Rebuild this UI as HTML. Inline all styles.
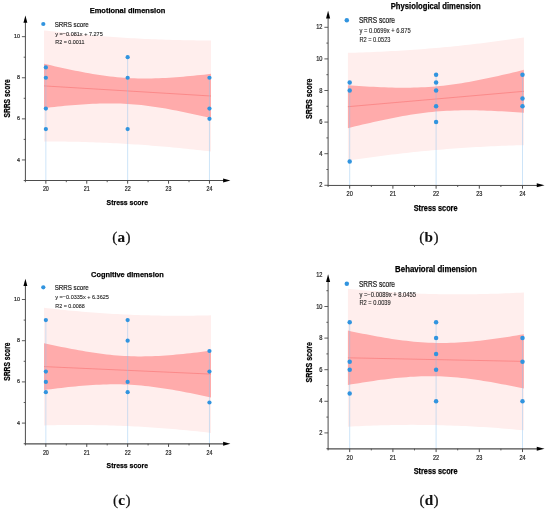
<!DOCTYPE html>
<html lang="en"><head><meta charset="utf-8"><title>SRRS score vs Stress score</title>
<style>html,body{margin:0;padding:0;background:#fff;}body{width:550px;height:513px;overflow:hidden;}svg{display:block;filter:blur(0.4px);font-family:'Liberation Sans', Arial, sans-serif;}</style>
</head><body>
<svg width="550" height="513" viewBox="0 0 550 513">
<rect x="0" y="0" width="550" height="513" fill="#fff"/>
<g>
<polygon points="44.00,30.40 47.48,30.81 50.96,31.21 54.44,31.61 57.92,31.99 61.40,32.37 64.88,32.74 68.35,33.10 71.83,33.46 75.31,33.80 78.79,34.14 82.27,34.47 85.75,34.79 89.23,35.10 92.71,35.40 96.19,35.70 99.67,35.98 103.15,36.26 106.62,36.53 110.10,36.79 113.58,37.04 117.06,37.28 120.54,37.51 124.02,37.74 127.50,37.95 130.98,38.16 134.46,38.35 137.94,38.54 141.42,38.72 144.90,38.89 148.38,39.05 151.85,39.21 155.33,39.35 158.81,39.49 162.29,39.61 165.77,39.73 169.25,39.84 172.73,39.94 176.21,40.03 179.69,40.12 183.17,40.19 186.65,40.26 190.12,40.32 193.60,40.37 197.08,40.41 200.56,40.44 204.04,40.47 207.52,40.49 211.00,40.50 211.00,151.50 207.52,151.09 204.04,150.69 200.56,150.29 197.08,149.91 193.60,149.53 190.12,149.16 186.65,148.80 183.17,148.44 179.69,148.10 176.21,147.76 172.73,147.43 169.25,147.11 165.77,146.80 162.29,146.50 158.81,146.20 155.33,145.92 151.85,145.64 148.38,145.37 144.90,145.11 141.42,144.86 137.94,144.62 134.46,144.39 130.98,144.16 127.50,143.95 124.02,143.74 120.54,143.55 117.06,143.36 113.58,143.18 110.10,143.01 106.62,142.85 103.15,142.69 99.67,142.55 96.19,142.41 92.71,142.29 89.23,142.17 85.75,142.06 82.27,141.96 78.79,141.87 75.31,141.78 71.83,141.71 68.35,141.64 64.88,141.58 61.40,141.53 57.92,141.49 54.44,141.46 50.96,141.43 47.48,141.41 44.00,141.40" fill="#ffeeed"/>
<polygon points="44.00,63.75 47.48,64.56 50.96,65.37 54.44,66.16 57.92,66.94 61.40,67.71 64.88,68.47 68.35,69.21 71.83,69.94 75.31,70.65 78.79,71.34 82.27,72.01 85.75,72.66 89.23,73.29 92.71,73.89 96.19,74.46 99.67,75.00 103.15,75.51 106.62,75.98 110.10,76.42 113.58,76.82 117.06,77.18 120.54,77.49 124.02,77.77 127.50,78.00 130.98,78.19 134.46,78.33 137.94,78.44 141.42,78.50 144.90,78.52 148.38,78.51 151.85,78.45 155.33,78.37 158.81,78.25 162.29,78.10 165.77,77.92 169.25,77.71 172.73,77.49 176.21,77.23 179.69,76.96 183.17,76.68 186.65,76.37 190.12,76.05 193.60,75.71 197.08,75.36 200.56,75.00 204.04,74.63 207.52,74.24 211.00,73.85 211.00,118.15 207.52,117.34 204.04,116.53 200.56,115.74 197.08,114.96 193.60,114.19 190.12,113.43 186.65,112.69 183.17,111.96 179.69,111.25 176.21,110.56 172.73,109.89 169.25,109.24 165.77,108.61 162.29,108.01 158.81,107.44 155.33,106.90 151.85,106.39 148.38,105.92 144.90,105.48 141.42,105.08 137.94,104.72 134.46,104.41 130.98,104.13 127.50,103.90 124.02,103.71 120.54,103.57 117.06,103.46 113.58,103.40 110.10,103.38 106.62,103.39 103.15,103.45 99.67,103.53 96.19,103.65 92.71,103.80 89.23,103.98 85.75,104.19 82.27,104.41 78.79,104.67 75.31,104.94 71.83,105.22 68.35,105.53 64.88,105.85 61.40,106.19 57.92,106.54 54.44,106.90 50.96,107.27 47.48,107.66 44.00,108.05" fill="#ffabab"/>
<line x1="44.00" y1="85.90" x2="211.00" y2="96.00" stroke="#fb8686" stroke-width="0.9"/>
<line x1="45.85" y1="67.47" x2="45.85" y2="180.50" stroke="#8cc0f0" stroke-opacity="0.55" stroke-width="0.8"/>
<line x1="127.65" y1="57.20" x2="127.65" y2="180.50" stroke="#8cc0f0" stroke-opacity="0.55" stroke-width="0.8"/>
<line x1="209.45" y1="77.75" x2="209.45" y2="180.50" stroke="#8cc0f0" stroke-opacity="0.55" stroke-width="0.8"/>
<circle cx="45.85" cy="67.47" r="2.12" fill="#3194df"/>
<circle cx="45.85" cy="77.75" r="2.12" fill="#3194df"/>
<circle cx="45.85" cy="108.58" r="2.12" fill="#3194df"/>
<circle cx="45.85" cy="129.12" r="2.12" fill="#3194df"/>
<circle cx="127.65" cy="57.20" r="2.12" fill="#3194df"/>
<circle cx="127.65" cy="77.75" r="2.12" fill="#3194df"/>
<circle cx="127.65" cy="129.12" r="2.12" fill="#3194df"/>
<circle cx="209.45" cy="77.75" r="2.12" fill="#3194df"/>
<circle cx="209.45" cy="108.58" r="2.12" fill="#3194df"/>
<circle cx="209.45" cy="118.85" r="2.12" fill="#3194df"/>
<line x1="25.40" y1="181.00" x2="25.40" y2="20.40" stroke="#4c4c4c" stroke-width="1"/>
<line x1="24.90" y1="180.50" x2="225.40" y2="180.50" stroke="#4c4c4c" stroke-width="1.00"/>
<polygon points="25.40,15.40 23.45,22.70 27.35,22.70" fill="#000"/>
<polygon points="230.40,180.50 223.10,178.55 223.10,182.45" fill="#000"/>
<line x1="21.90" y1="159.95" x2="25.40" y2="159.95" stroke="#4c4c4c" stroke-width="0.9"/>
<text x="20.10" y="161.50" text-anchor="end" font-size="6.00" fill="#222" stroke="#222" stroke-width="0.2" textLength="3.0" lengthAdjust="spacingAndGlyphs">4</text>
<line x1="21.90" y1="118.85" x2="25.40" y2="118.85" stroke="#4c4c4c" stroke-width="0.9"/>
<text x="20.10" y="120.40" text-anchor="end" font-size="6.00" fill="#222" stroke="#222" stroke-width="0.2" textLength="3.0" lengthAdjust="spacingAndGlyphs">6</text>
<line x1="21.90" y1="77.75" x2="25.40" y2="77.75" stroke="#4c4c4c" stroke-width="0.9"/>
<text x="20.10" y="79.30" text-anchor="end" font-size="6.00" fill="#222" stroke="#222" stroke-width="0.2" textLength="3.0" lengthAdjust="spacingAndGlyphs">8</text>
<line x1="21.90" y1="36.65" x2="25.40" y2="36.65" stroke="#4c4c4c" stroke-width="0.9"/>
<text x="20.10" y="38.20" text-anchor="end" font-size="6.00" fill="#222" stroke="#222" stroke-width="0.2" textLength="6.0" lengthAdjust="spacingAndGlyphs">10</text>
<line x1="23.70" y1="180.50" x2="25.40" y2="180.50" stroke="#4c4c4c" stroke-width="0.9"/>
<line x1="23.70" y1="139.40" x2="25.40" y2="139.40" stroke="#4c4c4c" stroke-width="0.9"/>
<line x1="23.70" y1="98.30" x2="25.40" y2="98.30" stroke="#4c4c4c" stroke-width="0.9"/>
<line x1="23.70" y1="57.20" x2="25.40" y2="57.20" stroke="#4c4c4c" stroke-width="0.9"/>
<line x1="45.85" y1="180.50" x2="45.85" y2="183.70" stroke="#4c4c4c" stroke-width="1"/>
<text x="45.85" y="191.35" text-anchor="middle" font-size="7.00" fill="#222" stroke="#222" stroke-width="0.2" textLength="5.9" lengthAdjust="spacingAndGlyphs">20</text>
<line x1="86.75" y1="180.50" x2="86.75" y2="183.70" stroke="#4c4c4c" stroke-width="1"/>
<text x="86.75" y="191.35" text-anchor="middle" font-size="7.00" fill="#222" stroke="#222" stroke-width="0.2" textLength="5.9" lengthAdjust="spacingAndGlyphs">21</text>
<line x1="127.65" y1="180.50" x2="127.65" y2="183.70" stroke="#4c4c4c" stroke-width="1"/>
<text x="127.65" y="191.35" text-anchor="middle" font-size="7.00" fill="#222" stroke="#222" stroke-width="0.2" textLength="5.9" lengthAdjust="spacingAndGlyphs">22</text>
<line x1="168.55" y1="180.50" x2="168.55" y2="183.70" stroke="#4c4c4c" stroke-width="1"/>
<text x="168.55" y="191.35" text-anchor="middle" font-size="7.00" fill="#222" stroke="#222" stroke-width="0.2" textLength="5.9" lengthAdjust="spacingAndGlyphs">23</text>
<line x1="209.45" y1="180.50" x2="209.45" y2="183.70" stroke="#4c4c4c" stroke-width="1"/>
<text x="209.45" y="191.35" text-anchor="middle" font-size="7.00" fill="#222" stroke="#222" stroke-width="0.2" textLength="5.9" lengthAdjust="spacingAndGlyphs">24</text>
<line x1="25.40" y1="180.50" x2="25.40" y2="182.20" stroke="#4c4c4c" stroke-width="0.9"/>
<line x1="66.30" y1="180.50" x2="66.30" y2="182.20" stroke="#4c4c4c" stroke-width="0.9"/>
<line x1="107.20" y1="180.50" x2="107.20" y2="182.20" stroke="#4c4c4c" stroke-width="0.9"/>
<line x1="148.10" y1="180.50" x2="148.10" y2="182.20" stroke="#4c4c4c" stroke-width="0.9"/>
<line x1="189.00" y1="180.50" x2="189.00" y2="182.20" stroke="#4c4c4c" stroke-width="0.9"/>
<text x="127.50" y="13.20" text-anchor="middle" font-size="8.10" font-weight="bold" fill="#000" stroke="#000" stroke-width="0.25" textLength="75.6" lengthAdjust="spacingAndGlyphs">Emotional dimension</text>
<text x="127.30" y="204.60" text-anchor="middle" font-size="7.90" font-weight="bold" fill="#000" stroke="#000" stroke-width="0.25" textLength="41.4" lengthAdjust="spacingAndGlyphs">Stress score</text>
<text transform="translate(9.90 98.40) rotate(-90)" text-anchor="middle" font-size="8.20" font-weight="bold" fill="#000" stroke="#000" stroke-width="0.25" textLength="38.2" lengthAdjust="spacingAndGlyphs">SRRS score</text>
<circle cx="43.30" cy="24.00" r="2.12" fill="#3194df"/>
<text x="54.70" y="26.80" font-size="7.90" fill="#1c1c1c" stroke="#1c1c1c" stroke-width="0.22" textLength="34.0" lengthAdjust="spacingAndGlyphs">SRRS score</text>
<text x="55.30" y="35.90" font-size="6.20" fill="#222" stroke="#222" stroke-width="0.1" textLength="47.4" lengthAdjust="spacingAndGlyphs">y =−0.081x + 7.275</text>
<text x="55.30" y="44.20" font-size="6.20" fill="#222" stroke="#222" stroke-width="0.1" textLength="29.1" lengthAdjust="spacingAndGlyphs">R2 = 0.0011</text>
<text x="121.60" y="242.30" text-anchor="middle" font-family='"Liberation Serif", "Times New Roman", serif' font-size="15.2" letter-spacing="0.35" fill="#111" stroke="#111" stroke-width="0.2" stroke-linejoin="round">(<tspan font-weight="bold" stroke-width="0.12">a</tspan>)</text>
</g>
<g>
<polygon points="347.90,52.83 351.57,52.73 355.23,52.63 358.90,52.52 362.57,52.40 366.23,52.28 369.90,52.14 373.57,51.99 377.23,51.84 380.90,51.67 384.57,51.50 388.23,51.31 391.90,51.12 395.57,50.91 399.23,50.70 402.90,50.47 406.57,50.24 410.23,50.00 413.90,49.74 417.57,49.48 421.23,49.20 424.90,48.92 428.57,48.62 432.23,48.32 435.90,48.00 439.57,47.67 443.23,47.34 446.90,46.99 450.57,46.63 454.23,46.27 457.90,45.89 461.57,45.50 465.23,45.11 468.90,44.70 472.57,44.28 476.23,43.85 479.90,43.42 483.57,42.97 487.23,42.51 490.90,42.05 494.57,41.57 498.23,41.08 501.90,40.59 505.57,40.09 509.23,39.57 512.90,39.05 516.57,38.52 520.23,37.98 523.90,37.43 523.90,145.17 520.23,145.27 516.57,145.37 512.90,145.48 509.23,145.60 505.57,145.72 501.90,145.86 498.23,146.01 494.57,146.16 490.90,146.33 487.23,146.50 483.57,146.69 479.90,146.88 476.23,147.09 472.57,147.30 468.90,147.53 465.23,147.76 461.57,148.00 457.90,148.26 454.23,148.52 450.57,148.80 446.90,149.08 443.23,149.38 439.57,149.68 435.90,150.00 432.23,150.33 428.57,150.66 424.90,151.01 421.23,151.37 417.57,151.73 413.90,152.11 410.23,152.50 406.57,152.89 402.90,153.30 399.23,153.72 395.57,154.15 391.90,154.58 388.23,155.03 384.57,155.49 380.90,155.95 377.23,156.43 373.57,156.92 369.90,157.41 366.23,157.91 362.57,158.43 358.90,158.95 355.23,159.48 351.57,160.02 347.90,160.57" fill="#ffeeed"/>
<polygon points="347.90,85.25 351.57,85.51 355.23,85.76 358.90,86.00 362.57,86.23 366.23,86.45 369.90,86.66 373.57,86.85 377.23,87.03 380.90,87.19 384.57,87.33 388.23,87.45 391.90,87.55 395.57,87.63 399.23,87.68 402.90,87.71 406.57,87.70 410.23,87.67 413.90,87.60 417.57,87.50 421.23,87.36 424.90,87.18 428.57,86.96 432.23,86.70 435.90,86.40 439.57,86.06 443.23,85.68 446.90,85.25 450.57,84.79 454.23,84.29 457.90,83.75 461.57,83.17 465.23,82.57 468.90,81.93 472.57,81.26 476.23,80.57 479.90,79.85 483.57,79.11 487.23,78.34 490.90,77.56 494.57,76.76 498.23,75.94 501.90,75.11 505.57,74.26 509.23,73.40 512.90,72.53 516.57,71.64 520.23,70.75 523.90,69.85 523.90,112.75 520.23,112.49 516.57,112.24 512.90,112.00 509.23,111.77 505.57,111.55 501.90,111.34 498.23,111.15 494.57,110.97 490.90,110.81 487.23,110.67 483.57,110.55 479.90,110.45 476.23,110.37 472.57,110.32 468.90,110.29 465.23,110.30 461.57,110.33 457.90,110.40 454.23,110.50 450.57,110.64 446.90,110.82 443.23,111.04 439.57,111.30 435.90,111.60 432.23,111.94 428.57,112.32 424.90,112.75 421.23,113.21 417.57,113.71 413.90,114.25 410.23,114.83 406.57,115.43 402.90,116.07 399.23,116.74 395.57,117.43 391.90,118.15 388.23,118.89 384.57,119.66 380.90,120.44 377.23,121.24 373.57,122.06 369.90,122.89 366.23,123.74 362.57,124.60 358.90,125.47 355.23,126.36 351.57,127.25 347.90,128.15" fill="#ffabab"/>
<line x1="347.90" y1="106.70" x2="523.90" y2="91.30" stroke="#fb8686" stroke-width="0.9"/>
<line x1="349.70" y1="82.60" x2="349.70" y2="185.30" stroke="#8cc0f0" stroke-opacity="0.55" stroke-width="0.8"/>
<line x1="436.10" y1="74.70" x2="436.10" y2="185.30" stroke="#8cc0f0" stroke-opacity="0.55" stroke-width="0.8"/>
<line x1="522.50" y1="74.70" x2="522.50" y2="185.30" stroke="#8cc0f0" stroke-opacity="0.55" stroke-width="0.8"/>
<circle cx="349.70" cy="82.60" r="2.24" fill="#3194df"/>
<circle cx="349.70" cy="90.50" r="2.24" fill="#3194df"/>
<circle cx="349.70" cy="161.60" r="2.24" fill="#3194df"/>
<circle cx="436.10" cy="74.70" r="2.24" fill="#3194df"/>
<circle cx="436.10" cy="82.60" r="2.24" fill="#3194df"/>
<circle cx="436.10" cy="90.50" r="2.24" fill="#3194df"/>
<circle cx="436.10" cy="106.30" r="2.24" fill="#3194df"/>
<circle cx="436.10" cy="122.10" r="2.24" fill="#3194df"/>
<circle cx="522.50" cy="74.70" r="2.24" fill="#3194df"/>
<circle cx="522.50" cy="98.40" r="2.24" fill="#3194df"/>
<circle cx="522.50" cy="106.30" r="2.24" fill="#3194df"/>
<line x1="328.10" y1="185.80" x2="328.10" y2="15.80" stroke="#4c4c4c" stroke-width="1"/>
<line x1="327.60" y1="185.45" x2="539.50" y2="185.45" stroke="#4c4c4c" stroke-width="1.00"/>
<polygon points="328.10,10.80 326.04,18.52 330.16,18.52" fill="#000"/>
<polygon points="544.50,185.30 536.78,183.24 536.78,187.36" fill="#000"/>
<line x1="324.40" y1="185.30" x2="328.10" y2="185.30" stroke="#4c4c4c" stroke-width="0.9"/>
<text x="322.49" y="187.30" text-anchor="end" font-size="6.35" fill="#222" stroke="#222" stroke-width="0.2" textLength="3.2" lengthAdjust="spacingAndGlyphs">2</text>
<line x1="324.40" y1="153.70" x2="328.10" y2="153.70" stroke="#4c4c4c" stroke-width="0.9"/>
<text x="322.49" y="155.70" text-anchor="end" font-size="6.35" fill="#222" stroke="#222" stroke-width="0.2" textLength="3.2" lengthAdjust="spacingAndGlyphs">4</text>
<line x1="324.40" y1="122.10" x2="328.10" y2="122.10" stroke="#4c4c4c" stroke-width="0.9"/>
<text x="322.49" y="124.10" text-anchor="end" font-size="6.35" fill="#222" stroke="#222" stroke-width="0.2" textLength="3.2" lengthAdjust="spacingAndGlyphs">6</text>
<line x1="324.40" y1="90.50" x2="328.10" y2="90.50" stroke="#4c4c4c" stroke-width="0.9"/>
<text x="322.49" y="92.50" text-anchor="end" font-size="6.35" fill="#222" stroke="#222" stroke-width="0.2" textLength="3.2" lengthAdjust="spacingAndGlyphs">8</text>
<line x1="324.40" y1="58.90" x2="328.10" y2="58.90" stroke="#4c4c4c" stroke-width="0.9"/>
<text x="322.49" y="60.90" text-anchor="end" font-size="6.35" fill="#222" stroke="#222" stroke-width="0.2" textLength="6.3" lengthAdjust="spacingAndGlyphs">10</text>
<line x1="324.40" y1="27.30" x2="328.10" y2="27.30" stroke="#4c4c4c" stroke-width="0.9"/>
<text x="322.49" y="29.30" text-anchor="end" font-size="6.35" fill="#222" stroke="#222" stroke-width="0.2" textLength="6.3" lengthAdjust="spacingAndGlyphs">12</text>
<line x1="326.40" y1="169.50" x2="328.10" y2="169.50" stroke="#4c4c4c" stroke-width="0.9"/>
<line x1="326.40" y1="137.90" x2="328.10" y2="137.90" stroke="#4c4c4c" stroke-width="0.9"/>
<line x1="326.40" y1="106.30" x2="328.10" y2="106.30" stroke="#4c4c4c" stroke-width="0.9"/>
<line x1="326.40" y1="74.70" x2="328.10" y2="74.70" stroke="#4c4c4c" stroke-width="0.9"/>
<line x1="326.40" y1="43.10" x2="328.10" y2="43.10" stroke="#4c4c4c" stroke-width="0.9"/>
<line x1="349.70" y1="185.30" x2="349.70" y2="188.69" stroke="#4c4c4c" stroke-width="1"/>
<text x="349.70" y="196.15" text-anchor="middle" font-size="7.41" fill="#222" stroke="#222" stroke-width="0.2" textLength="6.2" lengthAdjust="spacingAndGlyphs">20</text>
<line x1="392.90" y1="185.30" x2="392.90" y2="188.69" stroke="#4c4c4c" stroke-width="1"/>
<text x="392.90" y="196.15" text-anchor="middle" font-size="7.41" fill="#222" stroke="#222" stroke-width="0.2" textLength="6.2" lengthAdjust="spacingAndGlyphs">21</text>
<line x1="436.10" y1="185.30" x2="436.10" y2="188.69" stroke="#4c4c4c" stroke-width="1"/>
<text x="436.10" y="196.15" text-anchor="middle" font-size="7.41" fill="#222" stroke="#222" stroke-width="0.2" textLength="6.2" lengthAdjust="spacingAndGlyphs">22</text>
<line x1="479.30" y1="185.30" x2="479.30" y2="188.69" stroke="#4c4c4c" stroke-width="1"/>
<text x="479.30" y="196.15" text-anchor="middle" font-size="7.41" fill="#222" stroke="#222" stroke-width="0.2" textLength="6.2" lengthAdjust="spacingAndGlyphs">23</text>
<line x1="522.50" y1="185.30" x2="522.50" y2="188.69" stroke="#4c4c4c" stroke-width="1"/>
<text x="522.50" y="196.15" text-anchor="middle" font-size="7.41" fill="#222" stroke="#222" stroke-width="0.2" textLength="6.2" lengthAdjust="spacingAndGlyphs">24</text>
<line x1="328.10" y1="185.30" x2="328.10" y2="187.00" stroke="#4c4c4c" stroke-width="0.9"/>
<line x1="371.30" y1="185.30" x2="371.30" y2="187.00" stroke="#4c4c4c" stroke-width="0.9"/>
<line x1="414.50" y1="185.30" x2="414.50" y2="187.00" stroke="#4c4c4c" stroke-width="0.9"/>
<line x1="457.70" y1="185.30" x2="457.70" y2="187.00" stroke="#4c4c4c" stroke-width="0.9"/>
<line x1="500.90" y1="185.30" x2="500.90" y2="187.00" stroke="#4c4c4c" stroke-width="0.9"/>
<text x="435.70" y="8.80" text-anchor="middle" font-size="8.57" font-weight="bold" fill="#000" stroke="#000" stroke-width="0.25" textLength="89.9" lengthAdjust="spacingAndGlyphs">Physiological dimension</text>
<text x="435.60" y="210.70" text-anchor="middle" font-size="8.36" font-weight="bold" fill="#000" stroke="#000" stroke-width="0.25" textLength="43.8" lengthAdjust="spacingAndGlyphs">Stress score</text>
<text transform="translate(311.60 98.70) rotate(-90)" text-anchor="middle" font-size="8.68" font-weight="bold" fill="#000" stroke="#000" stroke-width="0.25" textLength="40.4" lengthAdjust="spacingAndGlyphs">SRRS score</text>
<circle cx="346.80" cy="20.20" r="2.24" fill="#3194df"/>
<text x="359.00" y="23.10" font-size="8.36" fill="#1c1c1c" stroke="#1c1c1c" stroke-width="0.22" textLength="36.0" lengthAdjust="spacingAndGlyphs">SRRS score</text>
<text x="359.40" y="32.60" font-size="6.38" fill="#222" stroke="#222" stroke-width="0.1" textLength="51.4" lengthAdjust="spacingAndGlyphs">y = 0.0699x + 6.875</text>
<text x="359.40" y="42.00" font-size="6.38" fill="#222" stroke="#222" stroke-width="0.1" textLength="31.1" lengthAdjust="spacingAndGlyphs">R2 = 0.0523</text>
<text x="429.00" y="242.30" text-anchor="middle" font-family='"Liberation Serif", "Times New Roman", serif' font-size="15.2" letter-spacing="0.35" fill="#111" stroke="#111" stroke-width="0.2" stroke-linejoin="round">(<tspan font-weight="bold" stroke-width="0.12">b</tspan>)</text>
</g>
<g>
<polygon points="44.00,307.82 47.48,308.22 50.96,308.61 54.44,308.99 57.92,309.36 61.40,309.71 64.88,310.06 68.35,310.40 71.83,310.73 75.31,311.05 78.79,311.36 82.27,311.66 85.75,311.95 89.23,312.23 92.71,312.50 96.19,312.76 99.67,313.01 103.15,313.24 106.62,313.47 110.10,313.68 113.58,313.89 117.06,314.08 120.54,314.27 124.02,314.44 127.50,314.60 130.98,314.75 134.46,314.89 137.94,315.02 141.42,315.14 144.90,315.25 148.38,315.34 151.85,315.43 155.33,315.51 158.81,315.57 162.29,315.63 165.77,315.67 169.25,315.70 172.73,315.73 176.21,315.74 179.69,315.74 183.17,315.73 186.65,315.72 190.12,315.69 193.60,315.65 197.08,315.61 200.56,315.55 204.04,315.48 207.52,315.41 211.00,315.32 211.00,432.88 207.52,432.48 204.04,432.09 200.56,431.71 197.08,431.34 193.60,430.99 190.12,430.64 186.65,430.30 183.17,429.97 179.69,429.65 176.21,429.34 172.73,429.04 169.25,428.75 165.77,428.47 162.29,428.20 158.81,427.94 155.33,427.69 151.85,427.46 148.38,427.23 144.90,427.02 141.42,426.81 137.94,426.62 134.46,426.43 130.98,426.26 127.50,426.10 124.02,425.95 120.54,425.81 117.06,425.68 113.58,425.56 110.10,425.45 106.62,425.36 103.15,425.27 99.67,425.19 96.19,425.13 92.71,425.07 89.23,425.03 85.75,425.00 82.27,424.97 78.79,424.96 75.31,424.96 71.83,424.97 68.35,424.98 64.88,425.01 61.40,425.05 57.92,425.09 54.44,425.15 50.96,425.22 47.48,425.29 44.00,425.38" fill="#ffeeed"/>
<polygon points="44.00,343.15 47.48,343.92 50.96,344.68 54.44,345.42 57.92,346.16 61.40,346.88 64.88,347.58 68.35,348.28 71.83,348.95 75.31,349.61 78.79,350.24 82.27,350.86 85.75,351.45 89.23,352.02 92.71,352.56 96.19,353.07 99.67,353.56 103.15,354.01 106.62,354.42 110.10,354.80 113.58,355.14 117.06,355.44 120.54,355.70 124.02,355.92 127.50,356.10 130.98,356.24 134.46,356.33 137.94,356.38 141.42,356.39 144.90,356.36 148.38,356.30 151.85,356.19 155.33,356.06 158.81,355.89 162.29,355.69 165.77,355.46 169.25,355.20 172.73,354.92 176.21,354.62 179.69,354.29 183.17,353.95 186.65,353.59 190.12,353.21 193.60,352.81 197.08,352.41 200.56,351.98 204.04,351.55 207.52,351.11 211.00,350.65 211.00,397.55 207.52,396.78 204.04,396.02 200.56,395.28 197.08,394.54 193.60,393.82 190.12,393.12 186.65,392.42 183.17,391.75 179.69,391.09 176.21,390.46 172.73,389.84 169.25,389.25 165.77,388.68 162.29,388.14 158.81,387.63 155.33,387.14 151.85,386.69 148.38,386.28 144.90,385.90 141.42,385.56 137.94,385.26 134.46,385.00 130.98,384.78 127.50,384.60 124.02,384.46 120.54,384.37 117.06,384.32 113.58,384.31 110.10,384.34 106.62,384.40 103.15,384.51 99.67,384.64 96.19,384.81 92.71,385.01 89.23,385.24 85.75,385.50 82.27,385.78 78.79,386.08 75.31,386.41 71.83,386.75 68.35,387.11 64.88,387.49 61.40,387.89 57.92,388.29 54.44,388.72 50.96,389.15 47.48,389.59 44.00,390.05" fill="#ffabab"/>
<line x1="44.00" y1="366.60" x2="211.00" y2="374.10" stroke="#fb8686" stroke-width="0.9"/>
<line x1="45.85" y1="320.10" x2="45.85" y2="443.70" stroke="#8cc0f0" stroke-opacity="0.55" stroke-width="0.8"/>
<line x1="127.65" y1="320.10" x2="127.65" y2="443.70" stroke="#8cc0f0" stroke-opacity="0.55" stroke-width="0.8"/>
<line x1="209.45" y1="351.00" x2="209.45" y2="443.70" stroke="#8cc0f0" stroke-opacity="0.55" stroke-width="0.8"/>
<circle cx="45.85" cy="320.10" r="2.12" fill="#3194df"/>
<circle cx="45.85" cy="371.60" r="2.12" fill="#3194df"/>
<circle cx="45.85" cy="381.90" r="2.12" fill="#3194df"/>
<circle cx="45.85" cy="392.20" r="2.12" fill="#3194df"/>
<circle cx="127.65" cy="320.10" r="2.12" fill="#3194df"/>
<circle cx="127.65" cy="340.70" r="2.12" fill="#3194df"/>
<circle cx="127.65" cy="381.90" r="2.12" fill="#3194df"/>
<circle cx="127.65" cy="392.20" r="2.12" fill="#3194df"/>
<circle cx="209.45" cy="351.00" r="2.12" fill="#3194df"/>
<circle cx="209.45" cy="371.60" r="2.12" fill="#3194df"/>
<circle cx="209.45" cy="402.50" r="2.12" fill="#3194df"/>
<line x1="25.40" y1="444.20" x2="25.40" y2="283.80" stroke="#4c4c4c" stroke-width="1"/>
<line x1="24.90" y1="443.90" x2="225.40" y2="443.90" stroke="#4c4c4c" stroke-width="1.30"/>
<polygon points="25.40,278.80 23.45,286.10 27.35,286.10" fill="#000"/>
<polygon points="230.40,443.70 223.10,441.75 223.10,445.65" fill="#000"/>
<line x1="21.90" y1="423.10" x2="25.40" y2="423.10" stroke="#4c4c4c" stroke-width="0.9"/>
<text x="20.10" y="424.65" text-anchor="end" font-size="6.00" fill="#222" stroke="#222" stroke-width="0.2" textLength="3.0" lengthAdjust="spacingAndGlyphs">4</text>
<line x1="21.90" y1="381.90" x2="25.40" y2="381.90" stroke="#4c4c4c" stroke-width="0.9"/>
<text x="20.10" y="383.45" text-anchor="end" font-size="6.00" fill="#222" stroke="#222" stroke-width="0.2" textLength="3.0" lengthAdjust="spacingAndGlyphs">6</text>
<line x1="21.90" y1="340.70" x2="25.40" y2="340.70" stroke="#4c4c4c" stroke-width="0.9"/>
<text x="20.10" y="342.25" text-anchor="end" font-size="6.00" fill="#222" stroke="#222" stroke-width="0.2" textLength="3.0" lengthAdjust="spacingAndGlyphs">8</text>
<line x1="21.90" y1="299.50" x2="25.40" y2="299.50" stroke="#4c4c4c" stroke-width="0.9"/>
<text x="20.10" y="301.05" text-anchor="end" font-size="6.00" fill="#222" stroke="#222" stroke-width="0.2" textLength="6.0" lengthAdjust="spacingAndGlyphs">10</text>
<line x1="23.70" y1="443.70" x2="25.40" y2="443.70" stroke="#4c4c4c" stroke-width="0.9"/>
<line x1="23.70" y1="402.50" x2="25.40" y2="402.50" stroke="#4c4c4c" stroke-width="0.9"/>
<line x1="23.70" y1="361.30" x2="25.40" y2="361.30" stroke="#4c4c4c" stroke-width="0.9"/>
<line x1="23.70" y1="320.10" x2="25.40" y2="320.10" stroke="#4c4c4c" stroke-width="0.9"/>
<line x1="45.85" y1="443.70" x2="45.85" y2="446.90" stroke="#4c4c4c" stroke-width="1"/>
<text x="45.85" y="454.55" text-anchor="middle" font-size="7.00" fill="#222" stroke="#222" stroke-width="0.2" textLength="5.9" lengthAdjust="spacingAndGlyphs">20</text>
<line x1="86.75" y1="443.70" x2="86.75" y2="446.90" stroke="#4c4c4c" stroke-width="1"/>
<text x="86.75" y="454.55" text-anchor="middle" font-size="7.00" fill="#222" stroke="#222" stroke-width="0.2" textLength="5.9" lengthAdjust="spacingAndGlyphs">21</text>
<line x1="127.65" y1="443.70" x2="127.65" y2="446.90" stroke="#4c4c4c" stroke-width="1"/>
<text x="127.65" y="454.55" text-anchor="middle" font-size="7.00" fill="#222" stroke="#222" stroke-width="0.2" textLength="5.9" lengthAdjust="spacingAndGlyphs">22</text>
<line x1="168.55" y1="443.70" x2="168.55" y2="446.90" stroke="#4c4c4c" stroke-width="1"/>
<text x="168.55" y="454.55" text-anchor="middle" font-size="7.00" fill="#222" stroke="#222" stroke-width="0.2" textLength="5.9" lengthAdjust="spacingAndGlyphs">23</text>
<line x1="209.45" y1="443.70" x2="209.45" y2="446.90" stroke="#4c4c4c" stroke-width="1"/>
<text x="209.45" y="454.55" text-anchor="middle" font-size="7.00" fill="#222" stroke="#222" stroke-width="0.2" textLength="5.9" lengthAdjust="spacingAndGlyphs">24</text>
<line x1="25.40" y1="443.70" x2="25.40" y2="445.40" stroke="#4c4c4c" stroke-width="0.9"/>
<line x1="66.30" y1="443.70" x2="66.30" y2="445.40" stroke="#4c4c4c" stroke-width="0.9"/>
<line x1="107.20" y1="443.70" x2="107.20" y2="445.40" stroke="#4c4c4c" stroke-width="0.9"/>
<line x1="148.10" y1="443.70" x2="148.10" y2="445.40" stroke="#4c4c4c" stroke-width="0.9"/>
<line x1="189.00" y1="443.70" x2="189.00" y2="445.40" stroke="#4c4c4c" stroke-width="0.9"/>
<text x="127.40" y="277.00" text-anchor="middle" font-size="8.10" font-weight="bold" fill="#000" stroke="#000" stroke-width="0.25" textLength="72.7" lengthAdjust="spacingAndGlyphs">Cognitive dimension</text>
<text x="127.30" y="467.80" text-anchor="middle" font-size="7.90" font-weight="bold" fill="#000" stroke="#000" stroke-width="0.25" textLength="41.4" lengthAdjust="spacingAndGlyphs">Stress score</text>
<text transform="translate(9.90 361.60) rotate(-90)" text-anchor="middle" font-size="8.20" font-weight="bold" fill="#000" stroke="#000" stroke-width="0.25" textLength="38.2" lengthAdjust="spacingAndGlyphs">SRRS score</text>
<circle cx="43.30" cy="287.30" r="2.12" fill="#3194df"/>
<text x="54.70" y="290.10" font-size="7.90" fill="#1c1c1c" stroke="#1c1c1c" stroke-width="0.22" textLength="34.0" lengthAdjust="spacingAndGlyphs">SRRS score</text>
<text x="55.30" y="299.20" font-size="6.20" fill="#222" stroke="#222" stroke-width="0.1" textLength="53.6" lengthAdjust="spacingAndGlyphs">y =−0.0335x + 6.3625</text>
<text x="55.30" y="307.50" font-size="6.20" fill="#222" stroke="#222" stroke-width="0.1" textLength="29.4" lengthAdjust="spacingAndGlyphs">R2 = 0.0088</text>
<text x="121.90" y="504.90" text-anchor="middle" font-family='"Liberation Serif", "Times New Roman", serif' font-size="15.2" letter-spacing="0.35" fill="#111" stroke="#111" stroke-width="0.2" stroke-linejoin="round">(<tspan font-weight="bold" stroke-width="0.12">c</tspan>)</text>
</g>
<g>
<polygon points="347.90,288.86 351.57,289.21 355.23,289.55 358.90,289.87 362.57,290.19 366.23,290.50 369.90,290.79 373.57,291.08 377.23,291.35 380.90,291.61 384.57,291.86 388.23,292.10 391.90,292.32 395.57,292.54 399.23,292.74 402.90,292.93 406.57,293.11 410.23,293.28 413.90,293.43 417.57,293.57 421.23,293.70 424.90,293.82 428.57,293.93 432.23,294.02 435.90,294.10 439.57,294.17 443.23,294.23 446.90,294.27 450.57,294.30 454.23,294.32 457.90,294.33 461.57,294.33 465.23,294.31 468.90,294.28 472.57,294.24 476.23,294.19 479.90,294.12 483.57,294.05 487.23,293.96 490.90,293.86 494.57,293.75 498.23,293.63 501.90,293.49 505.57,293.35 509.23,293.19 512.90,293.02 516.57,292.85 520.23,292.66 523.90,292.46 523.90,430.34 520.23,429.99 516.57,429.65 512.90,429.33 509.23,429.01 505.57,428.70 501.90,428.41 498.23,428.12 494.57,427.85 490.90,427.59 487.23,427.34 483.57,427.10 479.90,426.88 476.23,426.66 472.57,426.46 468.90,426.27 465.23,426.09 461.57,425.92 457.90,425.77 454.23,425.63 450.57,425.50 446.90,425.38 443.23,425.27 439.57,425.18 435.90,425.10 432.23,425.03 428.57,424.97 424.90,424.93 421.23,424.90 417.57,424.88 413.90,424.87 410.23,424.87 406.57,424.89 402.90,424.92 399.23,424.96 395.57,425.01 391.90,425.08 388.23,425.15 384.57,425.24 380.90,425.34 377.23,425.45 373.57,425.57 369.90,425.71 366.23,425.85 362.57,426.01 358.90,426.18 355.23,426.35 351.57,426.54 347.90,426.74" fill="#ffeeed"/>
<polygon points="347.90,330.60 351.57,331.38 355.23,332.14 358.90,332.90 362.57,333.64 366.23,334.36 369.90,335.07 373.57,335.76 377.23,336.43 380.90,337.08 384.57,337.70 388.23,338.30 391.90,338.88 395.57,339.43 399.23,339.94 402.90,340.42 406.57,340.87 410.23,341.28 413.90,341.65 417.57,341.98 421.23,342.27 424.90,342.51 428.57,342.70 432.23,342.85 435.90,342.95 439.57,343.00 443.23,343.00 446.90,342.96 450.57,342.87 454.23,342.73 457.90,342.55 461.57,342.33 465.23,342.07 468.90,341.77 472.57,341.44 476.23,341.08 479.90,340.68 483.57,340.25 487.23,339.80 490.90,339.33 494.57,338.83 498.23,338.31 501.90,337.77 505.57,337.21 509.23,336.64 512.90,336.05 516.57,335.44 520.23,334.83 523.90,334.20 523.90,388.60 520.23,387.82 516.57,387.06 512.90,386.30 509.23,385.56 505.57,384.84 501.90,384.13 498.23,383.44 494.57,382.77 490.90,382.12 487.23,381.50 483.57,380.90 479.90,380.32 476.23,379.77 472.57,379.26 468.90,378.78 465.23,378.33 461.57,377.92 457.90,377.55 454.23,377.22 450.57,376.93 446.90,376.69 443.23,376.50 439.57,376.35 435.90,376.25 432.23,376.20 428.57,376.20 424.90,376.24 421.23,376.33 417.57,376.47 413.90,376.65 410.23,376.87 406.57,377.13 402.90,377.43 399.23,377.76 395.57,378.12 391.90,378.52 388.23,378.95 384.57,379.40 380.90,379.87 377.23,380.37 373.57,380.89 369.90,381.43 366.23,381.99 362.57,382.56 358.90,383.15 355.23,383.76 351.57,384.37 347.90,385.00" fill="#ffabab"/>
<line x1="347.90" y1="357.80" x2="523.90" y2="361.40" stroke="#fb8686" stroke-width="0.9"/>
<line x1="349.70" y1="322.30" x2="349.70" y2="448.70" stroke="#8cc0f0" stroke-opacity="0.55" stroke-width="0.8"/>
<line x1="436.10" y1="322.30" x2="436.10" y2="448.70" stroke="#8cc0f0" stroke-opacity="0.55" stroke-width="0.8"/>
<line x1="522.50" y1="338.10" x2="522.50" y2="448.70" stroke="#8cc0f0" stroke-opacity="0.55" stroke-width="0.8"/>
<circle cx="349.70" cy="322.30" r="2.24" fill="#3194df"/>
<circle cx="349.70" cy="361.80" r="2.24" fill="#3194df"/>
<circle cx="349.70" cy="369.70" r="2.24" fill="#3194df"/>
<circle cx="349.70" cy="393.40" r="2.24" fill="#3194df"/>
<circle cx="436.10" cy="322.30" r="2.24" fill="#3194df"/>
<circle cx="436.10" cy="338.10" r="2.24" fill="#3194df"/>
<circle cx="436.10" cy="353.90" r="2.24" fill="#3194df"/>
<circle cx="436.10" cy="369.70" r="2.24" fill="#3194df"/>
<circle cx="436.10" cy="401.30" r="2.24" fill="#3194df"/>
<circle cx="522.50" cy="338.10" r="2.24" fill="#3194df"/>
<circle cx="522.50" cy="361.80" r="2.24" fill="#3194df"/>
<circle cx="522.50" cy="401.30" r="2.24" fill="#3194df"/>
<line x1="328.10" y1="449.20" x2="328.10" y2="279.20" stroke="#4c4c4c" stroke-width="1"/>
<line x1="327.60" y1="448.80" x2="539.50" y2="448.80" stroke="#4c4c4c" stroke-width="1.25"/>
<polygon points="328.10,274.20 326.04,281.92 330.16,281.92" fill="#000"/>
<polygon points="544.50,448.70 536.78,446.64 536.78,450.76" fill="#000"/>
<line x1="324.40" y1="432.90" x2="328.10" y2="432.90" stroke="#4c4c4c" stroke-width="0.9"/>
<text x="322.49" y="434.90" text-anchor="end" font-size="6.35" fill="#222" stroke="#222" stroke-width="0.2" textLength="3.2" lengthAdjust="spacingAndGlyphs">2</text>
<line x1="324.40" y1="401.30" x2="328.10" y2="401.30" stroke="#4c4c4c" stroke-width="0.9"/>
<text x="322.49" y="403.30" text-anchor="end" font-size="6.35" fill="#222" stroke="#222" stroke-width="0.2" textLength="3.2" lengthAdjust="spacingAndGlyphs">4</text>
<line x1="324.40" y1="369.70" x2="328.10" y2="369.70" stroke="#4c4c4c" stroke-width="0.9"/>
<text x="322.49" y="371.70" text-anchor="end" font-size="6.35" fill="#222" stroke="#222" stroke-width="0.2" textLength="3.2" lengthAdjust="spacingAndGlyphs">6</text>
<line x1="324.40" y1="338.10" x2="328.10" y2="338.10" stroke="#4c4c4c" stroke-width="0.9"/>
<text x="322.49" y="340.10" text-anchor="end" font-size="6.35" fill="#222" stroke="#222" stroke-width="0.2" textLength="3.2" lengthAdjust="spacingAndGlyphs">8</text>
<line x1="324.40" y1="306.50" x2="328.10" y2="306.50" stroke="#4c4c4c" stroke-width="0.9"/>
<text x="322.49" y="308.50" text-anchor="end" font-size="6.35" fill="#222" stroke="#222" stroke-width="0.2" textLength="6.3" lengthAdjust="spacingAndGlyphs">10</text>
<text x="322.49" y="276.90" text-anchor="end" font-size="6.35" fill="#222" stroke="#222" stroke-width="0.2" textLength="6.3" lengthAdjust="spacingAndGlyphs">12</text>
<line x1="326.40" y1="448.70" x2="328.10" y2="448.70" stroke="#4c4c4c" stroke-width="0.9"/>
<line x1="326.40" y1="417.10" x2="328.10" y2="417.10" stroke="#4c4c4c" stroke-width="0.9"/>
<line x1="326.40" y1="385.50" x2="328.10" y2="385.50" stroke="#4c4c4c" stroke-width="0.9"/>
<line x1="326.40" y1="353.90" x2="328.10" y2="353.90" stroke="#4c4c4c" stroke-width="0.9"/>
<line x1="326.40" y1="322.30" x2="328.10" y2="322.30" stroke="#4c4c4c" stroke-width="0.9"/>
<line x1="326.40" y1="290.70" x2="328.10" y2="290.70" stroke="#4c4c4c" stroke-width="0.9"/>
<line x1="349.70" y1="448.70" x2="349.70" y2="452.09" stroke="#4c4c4c" stroke-width="1"/>
<text x="349.70" y="459.55" text-anchor="middle" font-size="7.41" fill="#222" stroke="#222" stroke-width="0.2" textLength="6.2" lengthAdjust="spacingAndGlyphs">20</text>
<line x1="392.90" y1="448.70" x2="392.90" y2="452.09" stroke="#4c4c4c" stroke-width="1"/>
<text x="392.90" y="459.55" text-anchor="middle" font-size="7.41" fill="#222" stroke="#222" stroke-width="0.2" textLength="6.2" lengthAdjust="spacingAndGlyphs">21</text>
<line x1="436.10" y1="448.70" x2="436.10" y2="452.09" stroke="#4c4c4c" stroke-width="1"/>
<text x="436.10" y="459.55" text-anchor="middle" font-size="7.41" fill="#222" stroke="#222" stroke-width="0.2" textLength="6.2" lengthAdjust="spacingAndGlyphs">22</text>
<line x1="479.30" y1="448.70" x2="479.30" y2="452.09" stroke="#4c4c4c" stroke-width="1"/>
<text x="479.30" y="459.55" text-anchor="middle" font-size="7.41" fill="#222" stroke="#222" stroke-width="0.2" textLength="6.2" lengthAdjust="spacingAndGlyphs">23</text>
<line x1="522.50" y1="448.70" x2="522.50" y2="452.09" stroke="#4c4c4c" stroke-width="1"/>
<text x="522.50" y="459.55" text-anchor="middle" font-size="7.41" fill="#222" stroke="#222" stroke-width="0.2" textLength="6.2" lengthAdjust="spacingAndGlyphs">24</text>
<line x1="328.10" y1="448.70" x2="328.10" y2="450.40" stroke="#4c4c4c" stroke-width="0.9"/>
<line x1="371.30" y1="448.70" x2="371.30" y2="450.40" stroke="#4c4c4c" stroke-width="0.9"/>
<line x1="414.50" y1="448.70" x2="414.50" y2="450.40" stroke="#4c4c4c" stroke-width="0.9"/>
<line x1="457.70" y1="448.70" x2="457.70" y2="450.40" stroke="#4c4c4c" stroke-width="0.9"/>
<line x1="500.90" y1="448.70" x2="500.90" y2="450.40" stroke="#4c4c4c" stroke-width="0.9"/>
<text x="435.90" y="271.90" text-anchor="middle" font-size="8.57" font-weight="bold" fill="#000" stroke="#000" stroke-width="0.25" textLength="81.6" lengthAdjust="spacingAndGlyphs">Behavioral dimension</text>
<text x="435.60" y="474.10" text-anchor="middle" font-size="8.36" font-weight="bold" fill="#000" stroke="#000" stroke-width="0.25" textLength="43.8" lengthAdjust="spacingAndGlyphs">Stress score</text>
<text transform="translate(311.60 362.20) rotate(-90)" text-anchor="middle" font-size="8.68" font-weight="bold" fill="#000" stroke="#000" stroke-width="0.25" textLength="40.4" lengthAdjust="spacingAndGlyphs">SRRS score</text>
<circle cx="346.80" cy="283.80" r="2.24" fill="#3194df"/>
<text x="359.00" y="287.00" font-size="8.36" fill="#1c1c1c" stroke="#1c1c1c" stroke-width="0.22" textLength="36.0" lengthAdjust="spacingAndGlyphs">SRRS score</text>
<text x="359.40" y="296.70" font-size="6.38" fill="#222" stroke="#222" stroke-width="0.1" textLength="56.7" lengthAdjust="spacingAndGlyphs">y =−0.0089x + 8.0455</text>
<text x="359.40" y="305.00" font-size="6.38" fill="#222" stroke="#222" stroke-width="0.1" textLength="31.3" lengthAdjust="spacingAndGlyphs">R2 = 0.0039</text>
<text x="429.20" y="505.10" text-anchor="middle" font-family='"Liberation Serif", "Times New Roman", serif' font-size="15.2" letter-spacing="0.35" fill="#111" stroke="#111" stroke-width="0.2" stroke-linejoin="round">(<tspan font-weight="bold" stroke-width="0.12">d</tspan>)</text>
</g>
</svg></body></html>
